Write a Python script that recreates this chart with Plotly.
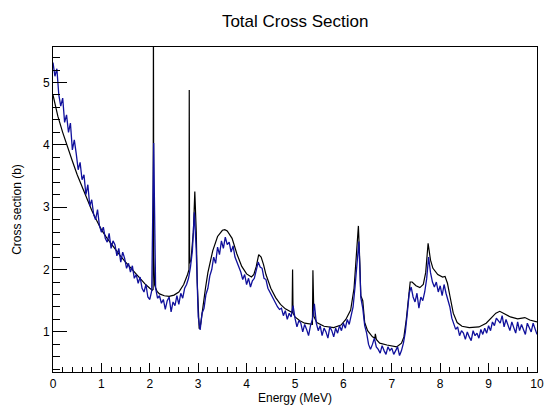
import numpy as np
import plotly.graph_objects as go

# Evaluated total cross section (black curve): energy (MeV), cross section (b)
eval_energy = [0.0, 0.05, 0.1, 0.2, 0.3, 0.4, 0.5, 0.6, 0.7, 0.8, 0.9, 1.0, 1.1, 1.2, 1.3, 1.4,
               1.5, 1.6, 1.7, 1.8, 1.9, 2.0, 2.05, 2.068, 2.075, 2.082, 2.1, 2.15, 2.2, 2.3, 2.4,
               2.5, 2.6, 2.7, 2.78, 2.81, 2.815, 2.822, 2.85, 2.9, 2.93, 2.96, 2.98, 3.0, 3.02,
               3.05, 3.1, 3.15, 3.2, 3.3, 3.4, 3.5, 3.55, 3.6, 3.7, 3.8, 3.9, 4.0, 4.1, 4.15,
               4.2, 4.25, 4.3, 4.35, 4.4, 4.5, 4.6, 4.7, 4.8, 4.9, 4.94, 4.95, 4.96, 5.0, 5.1,
               5.2, 5.3, 5.36, 5.37, 5.39, 5.45, 5.6, 5.8, 5.95, 6.05, 6.15, 6.22, 6.28, 6.31,
               6.34, 6.36, 6.4, 6.44, 6.5, 6.6, 6.65, 6.66, 6.68, 6.75, 6.9, 7.1, 7.2, 7.25,
               7.3, 7.34, 7.38, 7.42, 7.5, 7.58, 7.65, 7.7, 7.75, 7.8, 7.85, 7.95, 8.05, 8.1,
               8.15, 8.2, 8.27, 8.35, 8.45, 8.6, 8.8, 8.95, 9.05, 9.15, 9.23, 9.3, 9.45, 9.6,
               9.75, 9.85, 10.0]
eval_xs = [4.80, 4.62, 4.46, 4.20, 3.95, 3.74, 3.52, 3.32, 3.13, 2.95, 2.79, 2.64, 2.52, 2.41,
           2.31, 2.21, 2.12, 2.03, 1.94, 1.85, 1.77, 1.70, 1.67, 1.68, 6.00, 2.20, 1.75, 1.65,
           1.61, 1.58, 1.57, 1.59, 1.64, 1.76, 1.92, 2.00, 4.88, 2.10, 2.15, 2.60, 3.25, 2.60,
           1.80, 1.20, 1.05, 1.12, 1.45, 1.70, 1.95, 2.30, 2.53, 2.63, 2.64, 2.62, 2.50, 2.25,
           2.05, 1.93, 1.88, 1.92, 2.05, 2.24, 2.20, 2.08, 1.92, 1.70, 1.55, 1.44, 1.37, 1.32,
           1.31, 2.00, 1.30, 1.24, 1.18, 1.14, 1.12, 1.12, 1.99, 1.25, 1.15, 1.09, 1.07, 1.11,
           1.20, 1.35, 1.70, 2.30, 2.70, 2.10, 1.58, 1.50, 1.15, 1.02, 0.92, 0.90, 0.97, 0.88,
           0.82, 0.79, 0.76, 0.82, 0.92, 1.20, 1.55, 1.80, 1.80, 1.74, 1.71, 1.76, 1.95, 2.42,
           2.15, 2.02, 1.92, 1.88, 1.89, 1.78, 1.58, 1.30, 1.15, 1.09, 1.07, 1.08, 1.14, 1.22,
           1.30, 1.33, 1.30, 1.24, 1.21, 1.23, 1.19, 1.16]

# Measured total cross section (blue curve), every 0.04 MeV from 0 to 10 MeV
meas_xs = [
    5.32, 5.10, 5.22, 4.80, 4.62, 4.75, 4.36, 4.48, 4.20, 4.35, 3.92, 4.08, 3.86, 3.60, 3.72,
    3.44, 3.52, 3.20, 3.36, 3.02, 3.12, 2.88, 2.80, 2.96, 2.70,
    2.60, 2.68, 2.50, 2.44, 2.58, 2.34, 2.46, 2.40, 2.22, 2.34, 2.12, 2.28, 2.18, 2.02, 2.10,
    1.96, 2.06, 1.86, 1.92, 1.78, 1.88, 1.70, 1.64, 1.76, 1.56,
    1.52, 1.66, 4.03, 1.70, 1.54, 1.58, 1.46, 1.52, 1.36, 1.50, 1.56, 1.32, 1.48, 1.42, 1.58,
    1.44, 1.62, 1.54, 1.70, 1.76, 1.86, 2.04, 2.30, 2.92, 2.30,
    1.25, 1.03, 1.30, 1.38, 1.60, 1.70, 1.90, 2.00, 2.20, 2.10, 2.36, 2.24, 2.46, 2.34, 2.52,
    2.40, 2.44, 2.28, 2.38, 2.20, 2.12, 2.02, 1.96, 1.84, 1.92,
    1.76, 1.86, 1.72, 1.82, 1.86, 2.00, 2.12, 2.04, 2.02, 1.86, 1.84, 1.70, 1.64, 1.56, 1.50,
    1.46, 1.40, 1.36, 1.38, 1.26, 1.34, 1.20, 1.30, 1.24, 1.42,
    1.22, 1.08, 1.18, 1.14, 1.00, 1.12, 1.04, 0.94, 1.10, 1.20, 1.45, 1.14, 1.02, 1.10, 0.94,
    1.06, 1.00, 0.90, 1.08, 1.02, 0.92, 1.06, 0.98, 1.10, 1.02,
    1.14, 1.06, 1.20, 1.12, 1.26, 1.40, 1.72, 2.15, 2.45, 1.55, 1.38, 1.10, 0.98, 0.80, 0.72,
    0.80, 0.90, 0.76, 0.72, 0.66, 0.78, 0.70, 0.64, 0.76, 0.70,
    0.74, 0.64, 0.70, 0.76, 0.62, 0.70, 0.82, 1.00, 1.30, 1.62, 1.72, 1.56, 1.48, 1.62, 1.38,
    1.56, 1.50, 1.64, 1.85, 2.20, 1.95, 1.80, 1.72, 1.80, 1.64,
    1.74, 1.58, 1.76, 1.62, 1.52, 1.40, 1.22, 1.12, 1.04, 1.08, 0.94, 1.02, 0.98, 0.88, 1.00,
    0.92, 0.86, 1.02, 0.94, 0.98, 0.90, 1.04, 0.96, 1.06, 0.98,
    1.10, 1.02, 1.16, 1.10, 1.22, 1.18, 1.14, 1.26, 1.08, 1.20, 1.12, 1.02, 1.16, 1.06, 0.98,
    1.16, 1.02, 1.12, 1.04, 0.96, 1.14, 1.08, 1.00, 1.14, 1.04,
    0.96,
]
meas_energy = np.round(np.linspace(0.0, 10.0, len(meas_xs)), 2)

x_ticks = [0, 1, 2, 3, 4, 5, 6, 7, 8, 9, 10]
y_ticks = [1, 2, 3, 4, 5]

fig = go.Figure()
fig.add_trace(go.Scatter(x=eval_energy, y=eval_xs, mode="lines",
                         line=dict(color="black", width=1.2), showlegend=False))
fig.add_trace(go.Scatter(x=meas_energy, y=meas_xs, mode="lines",
                         line=dict(color="#10109c", width=1.3), showlegend=False))

font_family = "Liberation Sans, Arial, Helvetica, sans-serif"
fig.update_layout(
    width=545, height=405,
    margin=dict(l=53, r=8, t=47, b=33, autoexpand=False),
    paper_bgcolor="white", plot_bgcolor="white",
    font=dict(family=font_family, color="black", size=12),
    title=dict(text="Total Cross Section", x=0.5415, xanchor="center", y=0.948,
               yanchor="middle", font=dict(size=17, family=font_family)),
)
fig.update_xaxes(
    range=[0, 10], tickvals=x_ticks, ticktext=[str(v) for v in x_ticks],
    ticks="inside", ticklen=9, tickwidth=1, tickcolor="black",
    showline=True, linecolor="black", linewidth=1, mirror=True,
    showgrid=False, zeroline=False, automargin=False, ticklabelstandoff=1,
    minor=dict(dtick=0.2, ticks="inside", ticklen=5, tickcolor="black", showgrid=False),
    title=dict(text="Energy (MeV)", font=dict(size=12), standoff=1),
    tickfont=dict(size=12),
)
fig.update_yaxes(
    range=[0.357, 5.569], tickvals=y_ticks, ticktext=[str(v) for v in y_ticks],
    ticks="inside", ticklen=14, tickwidth=1, tickcolor="black",
    showline=True, linecolor="black", linewidth=1, mirror=True,
    showgrid=False, zeroline=False, automargin=False,
    minor=dict(dtick=0.2, ticks="inside", ticklen=7, tickcolor="black", showgrid=False),
    title=dict(text="Cross section (b)", font=dict(size=12), standoff=18),
    tickfont=dict(size=12),
)

fig.write_html("out.html", config={"displayModeBar": False},
               post_script="document.body.style.margin='0';")
